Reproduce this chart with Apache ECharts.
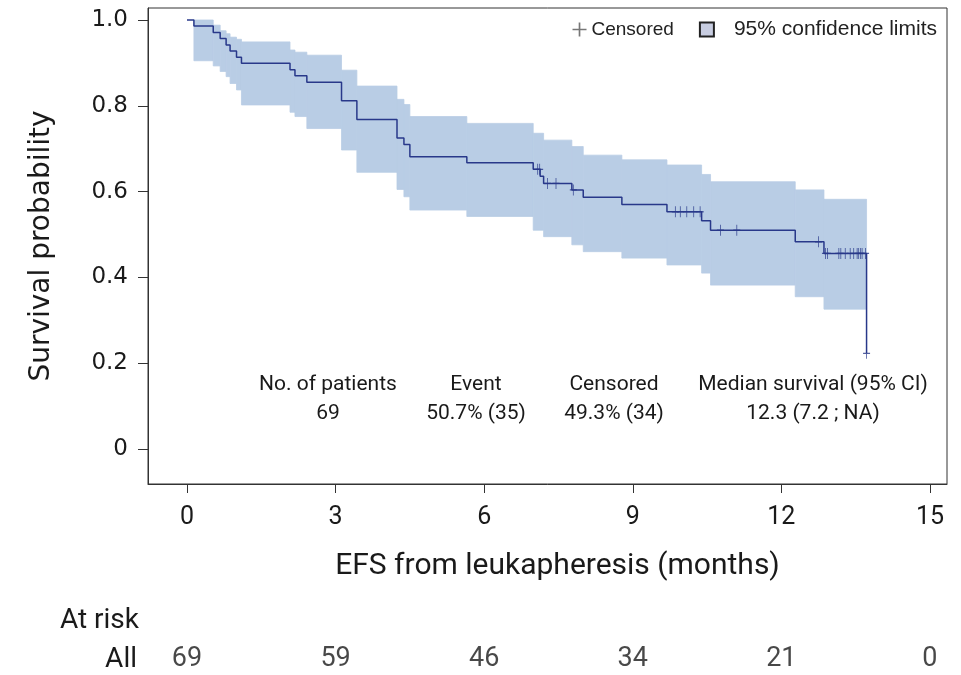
<!DOCTYPE html>
<html>
<head>
<meta charset="utf-8">
<script src="https://cdn.jsdelivr.net/npm/echarts@6/dist/echarts.min.js"></script>
<style>html,body{margin:0;padding:0;background:#fff;}#chart{width:961px;height:675px;}</style>
</head>
<body>
<div id="chart"></div>
<script>
// Kaplan-Meier step curve (time in months, survival probability)
const kmTime = [0, 0.14, 0.53, 0.67, 0.79, 0.87, 1.0, 1.1, 2.08, 2.18, 2.42, 3.12, 3.43, 4.24, 4.38, 4.5, 5.65, 6.99, 7.13, 7.2, 7.77, 8.0, 8.78, 9.69, 10.39, 10.57, 12.28, 12.86, 13.72];
const kmSurv = [1.0, 0.986, 0.971, 0.957, 0.942, 0.928, 0.913, 0.899, 0.884, 0.870, 0.855, 0.812, 0.768, 0.725, 0.710, 0.681, 0.667, 0.652, 0.636, 0.619, 0.604, 0.587, 0.570, 0.553, 0.532, 0.510, 0.483, 0.456, 0.223];

// 95% confidence band steps
const ciTime  = [0.14, 0.53, 0.67, 0.79, 0.87, 1.0, 1.1, 2.08, 2.18, 2.42, 3.12, 3.43, 4.24, 4.38, 4.5, 5.65, 6.99, 7.2, 7.77, 8.0, 8.78, 9.69, 10.39, 10.57, 12.28, 12.86];
const ciUpper = [1.0, 0.988, 0.975, 0.968, 0.96, 0.955, 0.949, 0.930, 0.925, 0.918, 0.883, 0.846, 0.815, 0.803, 0.775, 0.759, 0.736, 0.720, 0.705, 0.685, 0.674, 0.662, 0.640, 0.623, 0.604, 0.582];
const ciLower = [0.905, 0.893, 0.88, 0.868, 0.852, 0.837, 0.802, 0.785, 0.775, 0.747, 0.697, 0.645, 0.605, 0.588, 0.557, 0.542, 0.510, 0.495, 0.476, 0.460, 0.445, 0.429, 0.41, 0.382, 0.355, 0.326];
const ciEnd = 13.72;

// Censored observations
const censorTime = [7.08, 7.12, 7.28, 7.45, 7.8, 9.86, 9.96, 10.09, 10.23, 10.36, 10.77, 11.1, 12.75, 12.89, 12.93, 13.16, 13.2, 13.29, 13.39, 13.46, 13.53, 13.56, 13.6, 13.63, 13.7, 13.72];
const censorSurv = [0.652, 0.652, 0.619, 0.619, 0.604, 0.553, 0.553, 0.553, 0.553, 0.553, 0.510, 0.510, 0.483, 0.456, 0.456, 0.456, 0.456, 0.456, 0.456, 0.456, 0.456, 0.456, 0.456, 0.456, 0.456, 0.223];

// Axis ticks
const xTicks = [0, 3, 6, 9, 12, 15];
const yTicks = [0, 0.2, 0.4, 0.6, 0.8, 1.0];

// Number at risk
const riskTimes = [0, 3, 6, 9, 12, 15];
const riskCounts = [69, 59, 46, 34, 21, 0];
const riskGroups = ['All'];

// Summary statistics
const statHeaders = ['No. of patients', 'Event', 'Censored', 'Median survival (95% CI)'];
const statValues = ['69', '50.7% (35)', '49.3% (34)', '12.3 (7.2 ; NA)'];

const legendNames = ['Censored', '95% confidence limits'];

const LINE = '#28388a';
const BAND = '#b9cde5';
const TXT = '#1a1a1a';
const PLUS = 'path://M4.4,0H5.6V4.4H10V5.6H5.6V10H4.4V5.6H0V4.4H4.4Z';

const kmData = kmTime.map((t, i) => [t, kmSurv[i]]);
const ciData = ciTime.map((t, i) => [t, i + 1 < ciTime.length ? ciTime[i + 1] : ciEnd, ciLower[i], ciUpper[i]]);
const censorData = censorTime.map((t, i) => [t, censorSurv[i]]);
const riskData = riskTimes.map((t, i) => [t, riskGroups[0], riskCounts[i]]);

const chart = echarts.init(document.getElementById('chart'), null, {renderer: 'canvas'});

const statX = [328, 476, 614, 813];
const graphics = [];
statHeaders.forEach((h, i) => {
  graphics.push({type: 'text', x: statX[i], y: 385, style: {text: h, fill: TXT, font: '21px Roboto', textAlign: 'center', textVerticalAlign: 'middle'}});
  graphics.push({type: 'text', x: statX[i], y: 414, style: {text: statValues[i], fill: TXT, font: '21px Roboto', textAlign: 'center', textVerticalAlign: 'middle'}});
});
graphics.push({type: 'text', x: 139, y: 621, style: {text: 'At risk', fill: TXT, font: '28px Roboto', textAlign: 'right', textVerticalAlign: 'middle'}});

const option = {
  animation: false,
  backgroundColor: '#fff',
  grid: [
    {left: 148, right: 14, top: 8, bottom: 191, show: true, borderColor: '#333', borderWidth: 1, backgroundColor: 'transparent'},
    {left: 148, right: 14, top: 644, height: 40}
  ],
  xAxis: [
    {
      type: 'value', gridIndex: 0, min: -0.787, max: 15.344,
      splitLine: {show: false},
      axisLine: {show: true, onZero: false, lineStyle: {color: '#333'}},
      axisTick: {show: true, length: 9, customValues: xTicks, lineStyle: {color: '#333'}},
      axisLabel: {customValues: xTicks, fontFamily: 'Roboto', fontSize: 25, color: TXT, margin: 21},
      name: 'EFS from leukapheresis (months)', nameLocation: 'middle', nameGap: 67,
      nameTextStyle: {fontFamily: 'Roboto', fontSize: 30, color: TXT, padding: [0, 0, 0, 20]}
    },
    {type: 'value', gridIndex: 1, min: -0.787, max: 15.344, show: false}
  ],
  yAxis: [
    {
      type: 'value', gridIndex: 0, min: -0.0816, max: 1.028,
      splitLine: {show: false},
      axisLine: {show: true, onZero: false, lineStyle: {color: '#333'}},
      axisTick: {show: true, length: 10, customValues: yTicks, lineStyle: {color: '#333'}},
      axisLabel: {customValues: yTicks, fontFamily: 'DejaVu Sans', fontSize: 23, color: TXT, margin: 20,
        formatter: v => (v === 0 ? '0' : v.toFixed(1))},
      name: 'Survival probability', nameLocation: 'middle', nameGap: 92,
      nameTextStyle: {fontFamily: 'DejaVu Sans', fontSize: 28, color: TXT}
    },
    {
      type: 'category', gridIndex: 1, data: riskGroups,
      axisLine: {show: false}, axisTick: {show: false},
      axisLabel: {fontFamily: 'Roboto', fontSize: 28, color: TXT, margin: 11}
    }
  ],
  legend: {
    top: 14, right: 19, itemGap: 25, itemWidth: 14, itemHeight: 14,
    textStyle: {fontFamily: 'Liberation Sans', fontSize: 21, color: '#222'},
    data: [
      {name: legendNames[0], icon: PLUS, itemStyle: {color: '#555'}, textStyle: {fontSize: 19, padding: [0, 0, 0, 0]}},
      {name: legendNames[1], icon: 'rect', itemStyle: {color: '#c8cde1', borderColor: '#222', borderWidth: 2}, textStyle: {padding: [0, 0, 0, 15]}}
    ]
  },
  graphic: graphics,
  series: [
    {
      name: legendNames[1], type: 'custom', xAxisIndex: 0, yAxisIndex: 0, z: 1,
      data: ciData, encode: {x: [0, 1], y: [2, 3]},
      itemStyle: {color: BAND},
      renderItem: (params, api) => {
        const p0 = api.coord([api.value(0), api.value(3)]);
        const p1 = api.coord([api.value(1), api.value(2)]);
        return {type: 'rect', shape: {x: p0[0], y: p0[1], width: p1[0] - p0[0], height: p1[1] - p0[1]},
          style: {fill: BAND, stroke: BAND, lineWidth: 0.8}};
      }
    },
    {
      name: 'KM', type: 'line', xAxisIndex: 0, yAxisIndex: 0, z: 3, step: 'end',
      data: kmData, showSymbol: false, symbol: 'none',
      lineStyle: {color: LINE, width: 1.5}
    },
    {
      name: legendNames[0], type: 'scatter', xAxisIndex: 0, yAxisIndex: 0, z: 4,
      data: censorData, symbol: PLUS, symbolSize: [7, 11],
      itemStyle: {color: LINE}
    },
    {
      name: 'risk', type: 'scatter', xAxisIndex: 1, yAxisIndex: 1,
      data: riskData, symbolSize: 0, silent: true,
      label: {show: true, position: 'inside', formatter: p => String(p.value[2]), fontFamily: 'Roboto', fontSize: 27, color: TXT}
    }
  ]
};
chart.setOption(option);
</script>
</body>
</html>
